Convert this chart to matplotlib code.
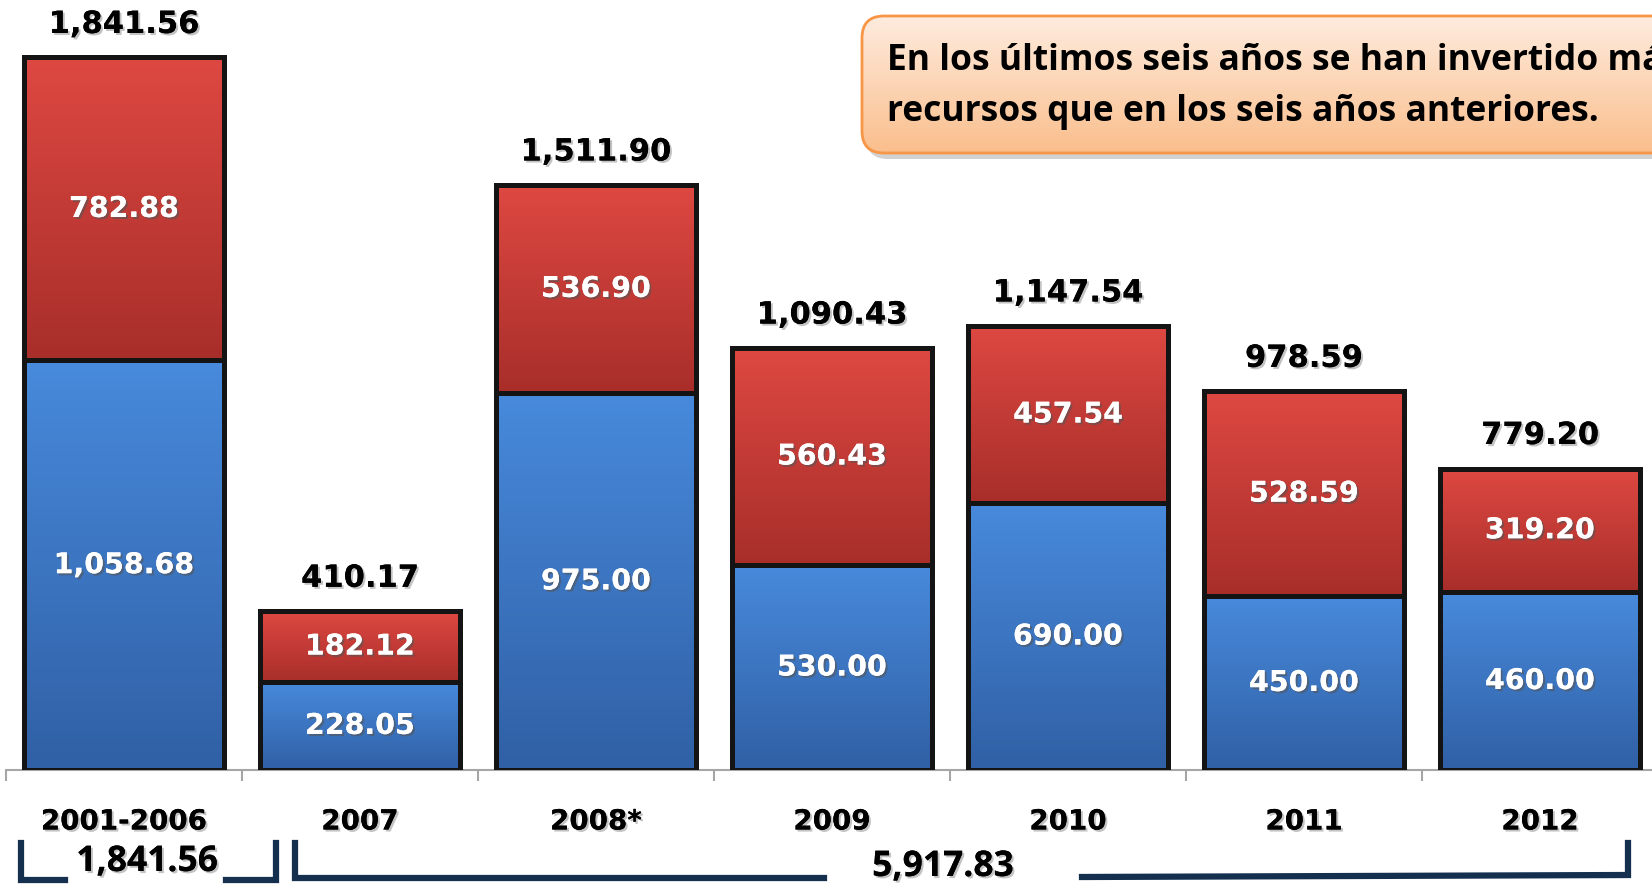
import numpy as np
import matplotlib
matplotlib.use('Agg')
import matplotlib.pyplot as plt
from matplotlib.patches import FancyBboxPatch
import matplotlib.patheffects as pe

# ---------------- data ----------------
categories = ['2001-2006', '2007', '2008*', '2009', '2010', '2011', '2012']
blue_vals = [1058.68, 228.05, 975.00, 530.00, 690.00, 450.00, 460.00]
red_vals = [782.88, 182.12, 536.90, 560.43, 457.54, 528.59, 319.20]
totals = [1841.56, 410.17, 1511.90, 1090.43, 1147.54, 978.59, 779.20]
group_labels = ['1,841.56', '5,917.83']
callout_lines = ['En los últimos seis años se han invertido más',
                 'recursos que en los seis años anteriores.']

# ---------------- layout ----------------
W, H = 1652, 886
fig = plt.figure(figsize=(W / 100, H / 100), dpi=100)
ax = fig.add_axes([6 / W, 116 / H, 1652 / W, 770 / H])
ax.patch.set_alpha(0)

x = np.arange(len(categories))
bw = 0.85
edge = '#141414'
b1 = ax.bar(x, blue_vals, bw, facecolor='none', edgecolor=edge, linewidth=3.6, zorder=3)
b2 = ax.bar(x, red_vals, bw, bottom=blue_vals, facecolor='none', edgecolor=edge,
            linewidth=3.6, zorder=3)


def grad_fill(bars, top, bot):
    top = np.array(top) / 255.0
    bot = np.array(bot) / 255.0
    g = np.linspace(0, 1, 256).reshape(-1, 1, 1)
    cols = (1 - g) * top + g * bot
    for p in bars:
        x0, y0 = p.get_xy()
        w, h = p.get_width(), p.get_height()
        im = ax.imshow(cols, extent=(x0, x0 + w, y0, y0 + h), origin='upper',
                       aspect='auto', zorder=2, interpolation='bilinear')
        im.set_clip_path(p)


grad_fill(b1, (72, 138, 220), (48, 96, 165))
grad_fill(b2, (222, 72, 66), (168, 46, 42))

ax.set_xlim(-0.5, len(categories) - 0.5)
ax.set_ylim(0, 1990)

shadow_dark = [pe.withSimplePatchShadow(offset=(1.5, -1.5), shadow_rgbFace='#555555', alpha=0.6),
               pe.Normal()]
shadow_light = [pe.withSimplePatchShadow(offset=(1.5, -1.5), shadow_rgbFace='#888888', alpha=0.5),
                pe.Normal()]

for xi, bv, rv, tv in zip(x, blue_vals, red_vals, totals):
    ax.text(xi, bv / 2, f'{bv:,.2f}', ha='center', va='center', color='white',
            fontsize=20.5, fontweight='bold', zorder=5, path_effects=shadow_dark)
    ax.text(xi, bv + rv / 2, f'{rv:,.2f}', ha='center', va='center', color='white',
            fontsize=20.5, fontweight='bold', zorder=5, path_effects=shadow_dark)
    ax.annotate(f'{tv:,.2f}', (xi, tv), xytext=(0, 33), textcoords='offset pixels',
                ha='center', va='center', color='black', fontsize=22, fontweight='bold',
                zorder=5, path_effects=shadow_light)

# axis styling
for s in ['top', 'right', 'left']:
    ax.spines[s].set_visible(False)
ax.spines['bottom'].set_color('#a6a6a6')
ax.spines['bottom'].set_linewidth(1.5)
ax.set_yticks([])
ax.set_xticks(x)
ax.set_xticklabels(categories)
for lab in ax.get_xticklabels():
    lab.set_fontsize(20)
    lab.set_fontweight('bold')
    lab.set_path_effects(shadow_light)
ax.tick_params(axis='x', which='major', length=0, pad=27)
ax.set_xticks(np.arange(-0.5, len(categories), 1), minor=True)
ax.tick_params(axis='x', which='minor', length=8, width=1.5, color='#a6a6a6', direction='out')

# ---------------- overlay (callout + brackets) ----------------
ov = fig.add_axes([0, 0, 1, 1])
ov.set_xlim(0, W)
ov.set_ylim(H, 0)
ov.axis('off')
ov.patch.set_alpha(0)

bx0, by0, bx1, by1 = 862, 16, 1720, 153
shadow_box = FancyBboxPatch((bx0 + 4, by0 + 6), bx1 - bx0, by1 - by0,
                            boxstyle='round,pad=0,rounding_size=22',
                            facecolor='#9a9a9a', edgecolor='none', alpha=0.45, zorder=1)
ov.add_patch(shadow_box)
box = FancyBboxPatch((bx0, by0), bx1 - bx0, by1 - by0,
                     boxstyle='round,pad=0,rounding_size=22',
                     facecolor='none', edgecolor='#f79646', linewidth=2, zorder=3)
ov.add_patch(box)
g = np.linspace(0, 1, 256).reshape(-1, 1, 1)
ctop = np.array((254, 236, 222)) / 255
cbot = np.array((250, 190, 140)) / 255
im = ov.imshow((1 - g) * ctop + g * cbot, extent=(bx0, bx1, by1, by0), origin='upper',
               aspect='auto', zorder=2, interpolation='bilinear')
im.set_clip_path(box)
ov.set_xlim(0, W)
ov.set_ylim(H, 0)

ov.text(887, 61, callout_lines[0], fontsize=25.5, fontweight='bold', family='Open Sans',
        va='center', ha='left', color='black', zorder=4)
ov.text(887, 112, callout_lines[1], fontsize=25.5, fontweight='bold', family='Open Sans',
        va='center', ha='left', color='black', zorder=4)

navy = '#15304f'
lw = 4.5
ov.plot([21, 21, 65], [843, 880, 880], color=navy, lw=lw, solid_joinstyle='miter')
ov.plot([226, 276, 276], [880, 880, 843], color=navy, lw=lw, solid_joinstyle='miter')
ov.plot([295, 295, 824], [843, 878, 878], color=navy, lw=lw, solid_joinstyle='miter')
ov.plot([1082, 1628, 1628], [877, 875, 843], color=navy, lw=lw, solid_joinstyle='miter')

ov.text(147, 862, group_labels[0], fontsize=25.5, fontweight='bold', family='Open Sans',
        ha='center', va='center', color='black', path_effects=shadow_light)
ov.text(943, 867, group_labels[1], fontsize=25.5, fontweight='bold', family='Open Sans',
        ha='center', va='center', color='black', path_effects=shadow_light)

fig.savefig('out.png', dpi=100)
